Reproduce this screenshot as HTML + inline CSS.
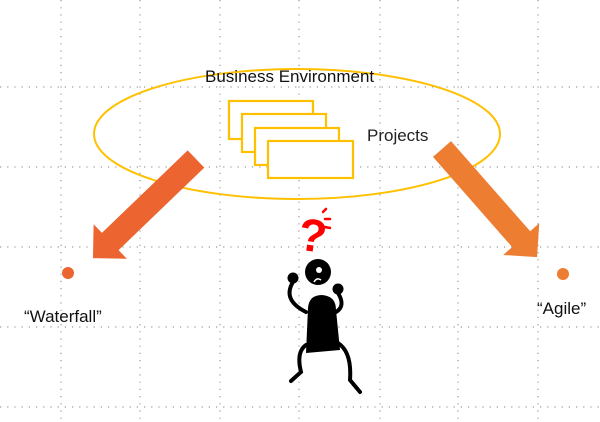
<!DOCTYPE html>
<html><head><style>
html,body{margin:0;padding:0;background:#fff;}
svg{display:block;font-family:"Liberation Sans",sans-serif;}
</style></head><body>
<svg width="600" height="422" viewBox="0 0 600 422" xmlns="http://www.w3.org/2000/svg">
<g stroke="#9a9a9a" stroke-width="1.2" stroke-dasharray="1.2 6" fill="none">
<line x1="0" y1="87" x2="600" y2="87"/><line x1="0" y1="167" x2="600" y2="167"/>
<line x1="0" y1="247" x2="600" y2="247"/><line x1="0" y1="327" x2="600" y2="327"/>
<line x1="0" y1="407" x2="600" y2="407"/>
<line x1="61" y1="0" x2="61" y2="422"/><line x1="140" y1="0" x2="140" y2="422"/>
<line x1="220" y1="0" x2="220" y2="422"/><line x1="299" y1="0" x2="299" y2="422"/>
<line x1="380" y1="0" x2="380" y2="422"/><line x1="458" y1="0" x2="458" y2="422"/>
<line x1="538" y1="0" x2="538" y2="422"/>
</g>
<ellipse cx="297" cy="134" rx="203" ry="65" fill="none" stroke="#ffc000" stroke-width="2"/>
<text x="205" y="82" font-size="17" fill="#111">Business Environment</text>
<g fill="#fff" stroke="#ffc000" stroke-width="2.2">
<rect x="229" y="101" width="84" height="38"/>
<rect x="242" y="114" width="84" height="38"/>
<rect x="255" y="128" width="84" height="37"/>
<rect x="268" y="141" width="85" height="37"/>
</g>
<text x="367" y="141" font-size="17" fill="#222">Projects</text>
<g transform="translate(196,159) rotate(136.1)">
<polygon points="0,-12 119,-12 119,-24 143,0 119,24 119,12 0,12" fill="#ec6530"/>
</g>
<g transform="translate(442,149) rotate(48.7)">
<polygon points="0,-12 120,-12 120,-24 144,0 120,24 120,12 0,12" fill="#ed7d31"/>
</g>
<circle cx="68" cy="273" r="6" fill="#ec6530"/>
<circle cx="563" cy="274" r="6" fill="#ed7d31"/>
<text x="24" y="322" font-size="17" fill="#111">“Waterfall”</text>
<text x="537" y="314" font-size="17" fill="#111">“Agile”</text>
<text x="299" y="251" font-size="46" font-weight="bold" fill="#f00" transform="rotate(8 310 232)">?</text>
<g stroke="#f00" stroke-width="2.5" stroke-linecap="round">
<line x1="323" y1="212" x2="326" y2="209"/><line x1="325" y1="219" x2="330" y2="219"/><line x1="325" y1="227" x2="330" y2="228"/>
</g>
<g fill="#000">
<circle cx="318" cy="272" r="13"/>
<circle cx="293" cy="278" r="5.5"/>
<circle cx="338" cy="289" r="5.5"/>
<path d="M306,353 L308,308 Q309,295 322,295 Q336,296 336,310 L340,350 Z"/>
</g>
<circle cx="319" cy="270" r="3" fill="#fff"/>
<path d="M314,282 q3,-5 7,-2" stroke="#fff" stroke-width="1.5" fill="none"/>
<g stroke="#000" stroke-width="4" fill="none" stroke-linecap="round">
<path d="M293,282 Q282,300 306,312"/>
<path d="M338,293 Q346,306 336,312"/>
<path d="M306,345 Q296,352 301,372 L291,381"/>
<path d="M338,343 Q352,352 350,380 L360,392"/>
</g>
</svg>
</body></html>
